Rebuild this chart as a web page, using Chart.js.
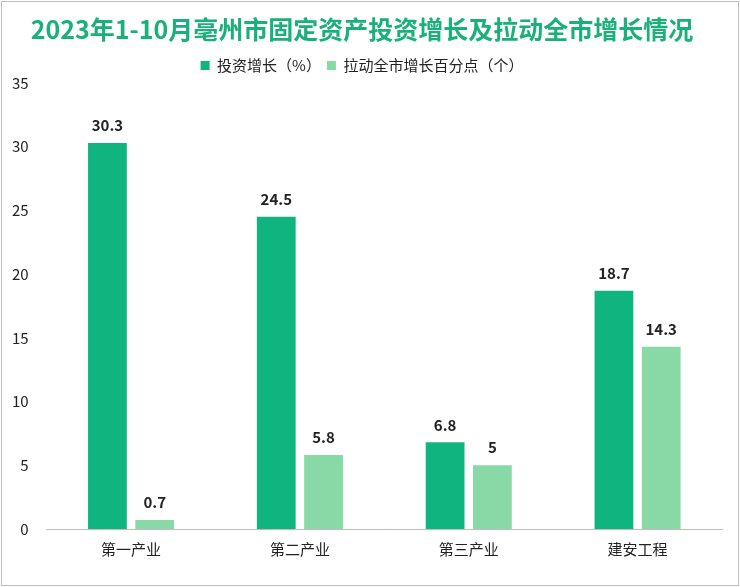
<!DOCTYPE html>
<html><head><meta charset="utf-8">
<script src="https://cdn.jsdelivr.net/npm/chart.js@4"></script>
<style>
body{margin:0;background:#fff;}
#wrap{position:absolute;left:1px;top:1px;width:736px;height:583px;border:1px solid #bfbfbf;}
</style></head>
<body><div id="wrap"><canvas id="myChart" width="736" height="583"></canvas></div>
<script>
var categories = ['第一产业', '第二产业', '第三产业', '建安工程'];
var investGrowth = [30.3, 24.5, 6.8, 18.7];
var pullPoints = [0.7, 5.8, 5, 14.3];
var yTicks = [0, 5, 10, 15, 20, 25, 30, 35];

var labelPlugin = {
    id: 'barLabels',
    afterDatasetsDraw: function(chart){
        var c = chart.ctx;
        c.save();
        c.font = 'bold 15px "Noto Sans CJK SC", sans-serif';
        c.fillStyle = '#222';
        c.textAlign = 'center';
        c.textBaseline = 'bottom';
        chart.data.datasets.forEach(function(ds, i){
            chart.getDatasetMeta(i).data.forEach(function(bar, j){
                c.fillText(ds.data[j], bar.x, bar.y - 10);
            });
        });
        c.restore();
    }
};

new Chart(document.getElementById('myChart'), {
    type: 'bar',
    data: {
        labels: categories,
        datasets: [{
            label: '投资增长（%）',
            data: investGrowth,
            backgroundColor: '#10b47e'
        }, {
            label: '拉动全市增长百分点（个）',
            data: pullPoints,
            backgroundColor: '#88d9a6'
        }]
    },
    options: {
        responsive: false,
        animation: false,
        layout: {padding: {left: 0, right: 16, bottom: 24, top: 4}},
        categoryPercentage: 0.56,
        barPercentage: 0.82,
        plugins: {
            title: {
                display: true,
                text: '2023年1-10月亳州市固定资产投资增长及拉动全市增长情况',
                color: '#19b07a',
                font: {size: 25, weight: 'bold', family: '"Noto Sans CJK SC", sans-serif'},
                padding: {top: 8, bottom: 8}
            },
            legend: {
                labels: {
                    boxWidth: 9, boxHeight: 9,
                    padding: 6,
                    color: '#222',
                    font: {size: 15, family: '"Noto Sans CJK SC", sans-serif'}
                }
            },
            tooltip: {enabled: false}
        },
        scales: {
            x: {
                grid: {display: false},
                border: {color: '#bfbfbf'},
                ticks: {color: '#222', font: {size: 15, family: '"Noto Sans CJK SC", sans-serif'}}
            },
            y: {
                min: 0, max: 35,
                grid: {display: false},
                border: {display: false},
                afterBuildTicks: function(axis){
                    axis.ticks = yTicks.map(function(v){ return {value: v}; });
                },
                ticks: {color: '#222', padding: 10, font: {size: 15, family: '"Noto Sans CJK SC", sans-serif'}}
            }
        }
    },
    plugins: [labelPlugin]
});
</script>
</body></html>
